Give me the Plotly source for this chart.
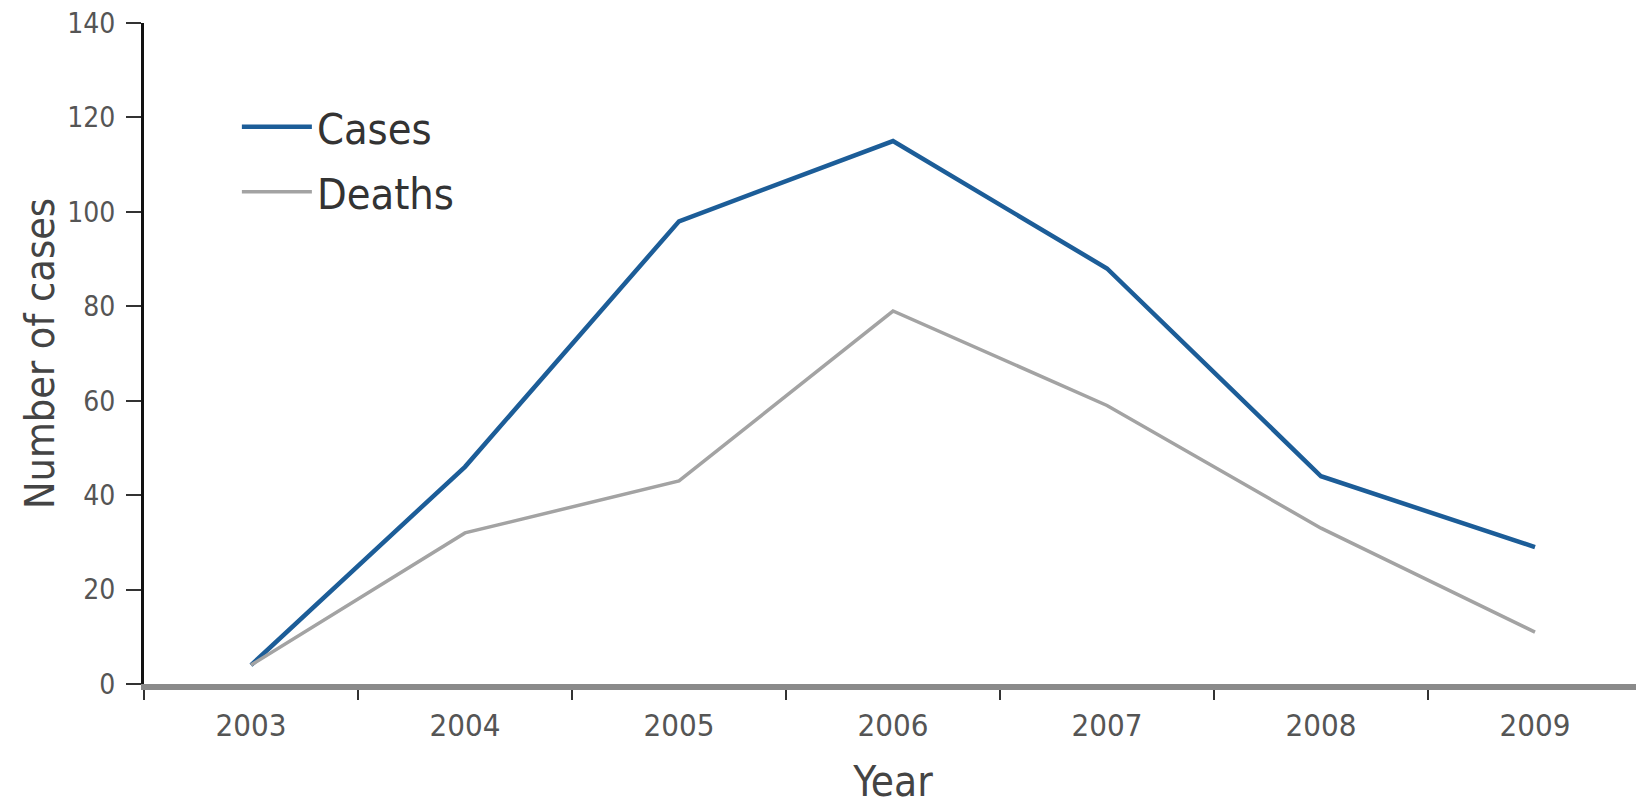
import plotly.graph_objects as go

years = ["2003", "2004", "2005", "2006", "2007", "2008", "2009"]
cases = [4, 46, 98, 115, 88, 44, 29]
deaths = [4, 32, 43, 79, 59, 33, 11]
y_ticks = [0, 20, 40, 60, 80, 100, 120, 140]

FONT = "DejaVu Sans Condensed, Liberation Sans Narrow, Roboto, sans-serif"

fig = go.Figure()
fig.add_trace(go.Scatter(x=years, y=cases, mode="lines", name="Cases", legendgroup="a",
                         line=dict(color="#1c5d98", width=4.5)))
fig.add_trace(go.Scatter(x=years, y=deaths, mode="lines", name="Deaths", legendgroup="b",
                         line=dict(color="#a3a3a3", width=3.5)))

fig.update_layout(
    width=1636, height=798,
    margin=dict(l=136, r=2, t=15, b=122),
    paper_bgcolor="white", plot_bgcolor="white",
    font=dict(family=FONT, color="#444"),
    showlegend=True,
    legend=dict(x=0.062, y=0.895, xanchor="left", yanchor="top",
                font=dict(size=43, color="#333", family=FONT),
                bgcolor="rgba(0,0,0,0)", itemwidth=70, tracegroupgap=6),
    xaxis=dict(
        type="category", range=[-0.5, 6.5], automargin=False,
        showgrid=False, zeroline=False,
        showline=True, linecolor="#8a8a8a", linewidth=6,
        ticks="outside", tickson="boundaries", ticklen=10, tickwidth=2,
        tickcolor="#333",
        tickfont=dict(size=31, color="#555", family=FONT),
        ticklabelstandoff=9,
        title=dict(text="Year", font=dict(size=42, color="#444", family=FONT), standoff=35),
    ),
    yaxis=dict(
        range=[0, 140], tickvals=y_ticks, automargin=False,
        ticklabeloverflow="allow",
        showgrid=False, zeroline=False,
        showline=True, linecolor="#111", linewidth=3,
        ticks="outside", ticklen=15, tickwidth=2, tickcolor="#333",
        tickfont=dict(size=28, color="#555", family=FONT),
        ticklabelstandoff=5,
        title=dict(text="Number of cases", font=dict(size=41, color="#444", family=FONT), standoff=0),
    ),
)

fig.write_html("out.html")
